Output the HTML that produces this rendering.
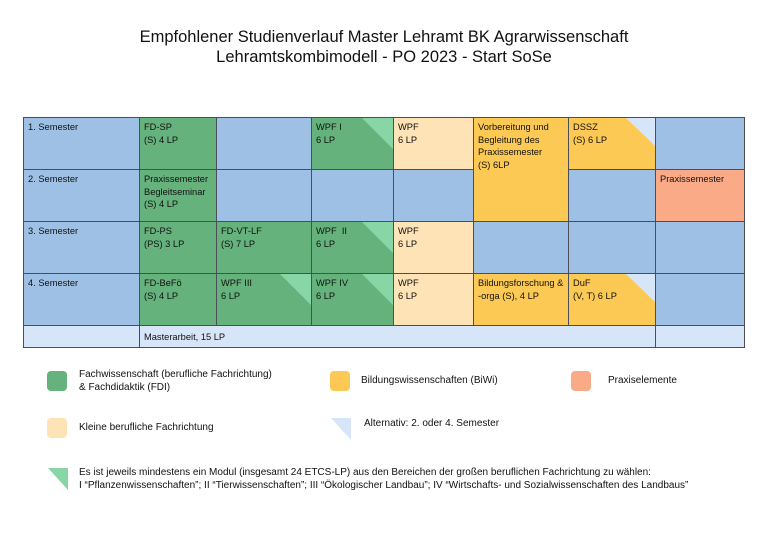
<!DOCTYPE html>
<html><head><meta charset="utf-8"><style>
body{margin:0;width:768px;height:542px;background:#fff;position:relative;overflow:hidden;font-family:"Liberation Sans",sans-serif;color:#111}
.t{position:absolute;left:0;width:768px;text-align:center;font-size:16.5px}
.c{position:absolute;box-sizing:border-box;border:1px solid #4a4f55;font-size:9.3px;line-height:12.5px;padding:3px 4px;overflow:hidden}
.b{background:#9fc0e5}.g{background:#65b27c}.lo{background:#fde3b6}.o{background:#fcc954}.s{background:#fbaa88}.lb{background:#d6e6f8}
.tri{position:absolute;top:0;right:0;width:0;height:0}
.tg{border-left:31px solid transparent;border-top:31px solid #88d6a6}
.tb{border-left:29px solid transparent;border-top:28px solid #d6e6f8}
.l{position:absolute;font-size:10px;line-height:13px}
.sw{position:absolute;width:20px;height:20px;border-radius:4px}
</style></head><body>
<div class="t" style="top:28px">Empfohlener Studienverlauf Master Lehramt BK Agrarwissenschaft</div>
<div class="t" style="top:48px">Lehramtskombimodell - PO 2023 - Start SoSe</div>

<div class="c b" style="left:23px;top:117px;width:117px;height:53px">1. Semester</div>
<div class="c g" style="left:139px;top:117px;width:78px;height:53px">FD-SP<br>(S) 4 LP</div>
<div class="c b" style="left:216px;top:117px;width:96px;height:53px"></div>
<div class="c g" style="left:311px;top:117px;width:83px;height:53px"><div class="tri tg"></div>WPF I<br>6 LP</div>
<div class="c lo" style="left:393px;top:117px;width:81px;height:53px">WPF<br>6 LP</div>
<div class="c o" style="left:473px;top:117px;width:96px;height:105px">Vorbereitung und<br>Begleitung des<br>Praxissemester<br>(S) 6LP</div>
<div class="c o" style="left:568px;top:117px;width:88px;height:53px"><div class="tri tb"></div>DSSZ<br>(S) 6 LP</div>
<div class="c b" style="left:655px;top:117px;width:90px;height:53px"></div>

<div class="c b" style="left:23px;top:169px;width:117px;height:53px">2. Semester</div>
<div class="c g" style="left:139px;top:169px;width:78px;height:53px">Praxissemester<br>Begleitseminar<br>(S) 4 LP</div>
<div class="c b" style="left:216px;top:169px;width:96px;height:53px"></div>
<div class="c b" style="left:311px;top:169px;width:83px;height:53px"></div>
<div class="c b" style="left:393px;top:169px;width:81px;height:53px"></div>
<div class="c b" style="left:568px;top:169px;width:88px;height:53px"></div>
<div class="c s" style="left:655px;top:169px;width:90px;height:53px">Praxissemester</div>

<div class="c b" style="left:23px;top:221px;width:117px;height:53px">3. Semester</div>
<div class="c g" style="left:139px;top:221px;width:78px;height:53px">FD-PS<br>(PS) 3 LP</div>
<div class="c g" style="left:216px;top:221px;width:96px;height:53px">FD-VT-LF<br>(S) 7 LP</div>
<div class="c g" style="left:311px;top:221px;width:83px;height:53px"><div class="tri tg"></div>WPF&nbsp; II<br>6 LP</div>
<div class="c lo" style="left:393px;top:221px;width:81px;height:53px">WPF<br>6 LP</div>
<div class="c b" style="left:473px;top:221px;width:96px;height:53px"></div>
<div class="c b" style="left:568px;top:221px;width:88px;height:53px"></div>
<div class="c b" style="left:655px;top:221px;width:90px;height:53px"></div>

<div class="c b" style="left:23px;top:273px;width:117px;height:53px">4. Semester</div>
<div class="c g" style="left:139px;top:273px;width:78px;height:53px">FD-BeFö<br>(S) 4 LP</div>
<div class="c g" style="left:216px;top:273px;width:96px;height:53px"><div class="tri tg"></div>WPF III<br>6 LP</div>
<div class="c g" style="left:311px;top:273px;width:83px;height:53px"><div class="tri tg"></div>WPF IV<br>6 LP</div>
<div class="c lo" style="left:393px;top:273px;width:81px;height:53px">WPF<br>6 LP</div>
<div class="c o" style="left:473px;top:273px;width:96px;height:53px">Bildungsforschung &amp;<br>-orga (S), 4 LP</div>
<div class="c o" style="left:568px;top:273px;width:88px;height:53px"><div class="tri tb"></div>DuF<br>(V, T) 6 LP</div>
<div class="c b" style="left:655px;top:273px;width:90px;height:53px"></div>

<div class="c lb" style="left:23px;top:325px;width:117px;height:23px"></div>
<div class="c lb" style="left:139px;top:325px;width:517px;height:23px;padding-top:5px">Masterarbeit, 15 LP</div>
<div class="c lb" style="left:655px;top:325px;width:90px;height:23px"></div>

<div class="sw" style="left:47px;top:371px;background:#65b27c"></div>
<div class="l" style="left:79px;top:368px">Fachwissenschaft (berufliche Fachrichtung)<br>&amp; Fachdidaktik (FDI)</div>
<div class="sw" style="left:330px;top:371px;background:#fcc954"></div>
<div class="l" style="left:361px;top:374px">Bildungswissenschaften (BiWi)</div>
<div class="sw" style="left:571px;top:371px;background:#fbaa88"></div>
<div class="l" style="left:608px;top:374px">Praxiselemente</div>
<div class="sw" style="left:47px;top:418px;background:#fde3b6"></div>
<div class="l" style="left:79px;top:421px">Kleine berufliche Fachrichtung</div>
<div class="tri" style="position:absolute;left:331px;top:418px;right:auto;border-left:20px solid transparent;border-top:22px solid #d6e6f8"></div>
<div class="l" style="left:364px;top:417px">Alternativ: 2. oder 4. Semester</div>
<div class="tri" style="position:absolute;left:48px;top:468px;right:auto;border-left:20px solid transparent;border-top:22px solid #88d6a6"></div>
<div class="l" style="left:79px;top:466px">Es ist jeweils mindestens ein Modul (insgesamt 24 ETCS-LP) aus den Bereichen der großen beruflichen Fachrichtung zu wählen:<br>I “Pflanzenwissenschaften”; II “Tierwissenschaften”; III “Ökologischer Landbau”; IV “Wirtschafts- und Sozialwissenschaften des Landbaus”</div>
</body></html>
